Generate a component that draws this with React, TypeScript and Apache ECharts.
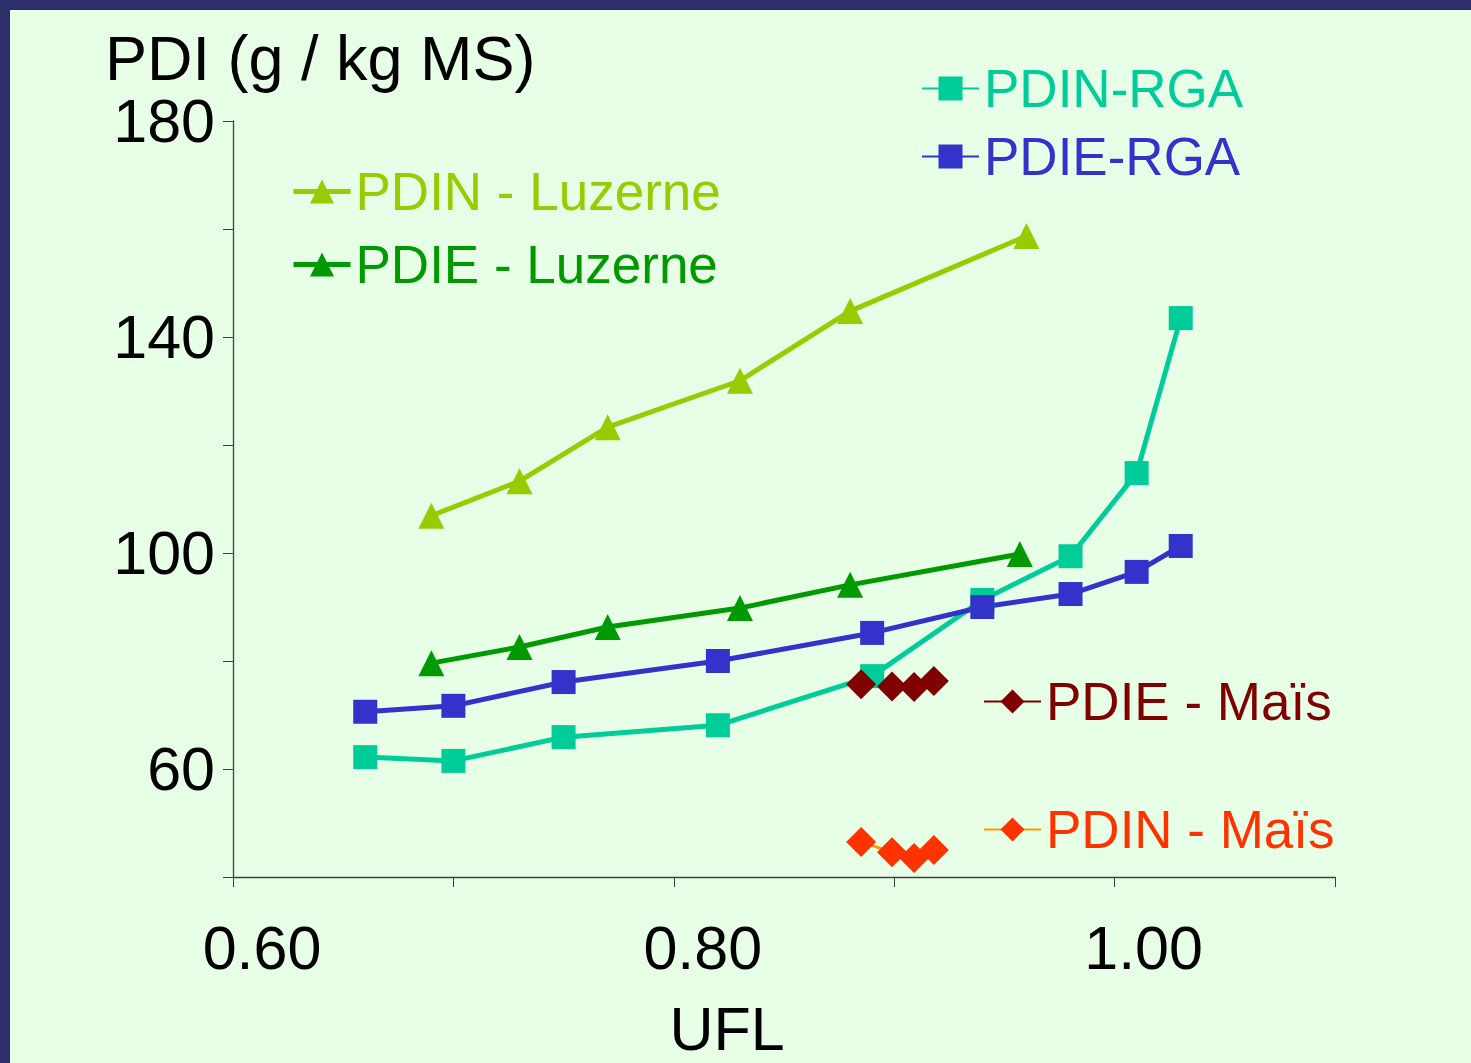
import React, { useEffect, useRef } from 'react';
import * as echarts from 'echarts';

const uflLuzN = [0.69, 0.73, 0.77, 0.83, 0.88, 0.96];
const pdinLuz = [106.9, 113.3, 123.3, 131.9, 144.8, 158.7];
const uflLuzE = [0.69, 0.73, 0.77, 0.83, 0.88, 0.957];
const pdieLuz = [79.6, 82.6, 86.3, 89.8, 94.1, 99.8];

const uflRga = [0.66, 0.70, 0.75, 0.82, 0.89, 0.94, 0.98, 1.01, 1.03];
const pdinRga = [62.2, 61.5, 65.9, 68.1, 77.2, 91.3, 99.4, 114.8, 143.5];
const pdieRga = [70.6, 71.7, 76.1, 80.0, 85.2, 90.0, 92.4, 96.5, 101.3];

const uflMais = [0.885, 0.899, 0.909, 0.918];
const pdieMais = [75.7, 75.3, 75.2, 76.3];
const pdinMais = [46.5, 44.6, 43.5, 45.0];

const xTickLabels = ['0.60', '0.80', '1.00'];
const yTickLabels = ['60', '100', '140', '180'];

const FONT = '"Liberation Sans", Arial, sans-serif';

const pair = (xs: number[], ys: number[]) => xs.map((x, i) => [x, ys[i]]);

export default function App() {
  const ref = useRef<HTMLDivElement>(null);
  useEffect(() => {
    const chart = echarts.init(ref.current!, null, { renderer: 'svg' });
    const lineSeries = (name: string, data: number[][], color: string, symbol: string, size: number, width: number, lineColor?: string) => ({
      name,
      type: 'line',
      data,
      symbol,
      symbolSize: size,
      itemStyle: { color },
      lineStyle: { color: lineColor || color, width },
      emphasis: { disabled: true },
    });
    const legendBase = {
      orient: 'vertical',
      padding: 0,
      itemWidth: 57,
      itemHeight: 30,
      selectedMode: false,
      textStyle: { fontSize: 53, fontFamily: FONT },
    };
    chart.setOption({
      animation: false,
      backgroundColor: '#2C2F6C',
      textStyle: { fontFamily: FONT },
      graphic: [
        { type: 'rect', z: -10, shape: { x: 10, y: 10, width: 1461, height: 1053 }, style: { fill: '#E6FFE6' } },
        { type: 'text', x: 105, y: 26, style: { text: 'PDI (g / kg MS)', fontSize: 63, fontFamily: FONT, fill: '#000' } },
        { type: 'text', x: 727, y: 998, style: { text: 'UFL', fontSize: 61, fontFamily: FONT, fill: '#000', textAlign: 'center' } },
      ],
      grid: { left: 233, top: 121, width: 1102, height: 756, containLabel: false },
      xAxis: {
        type: 'value',
        min: 0.6,
        max: 1.1,
        interval: 0.1,
        splitLine: { show: false },
        axisLine: { onZero: false, lineStyle: { color: '#404040', width: 1.3 } },
        axisTick: { length: 10, lineStyle: { color: '#404040' } },
        axisLabel: {
          margin: 40,
          fontSize: 61,
          color: '#000',
          fontFamily: FONT,
          padding: [0, 0, 0, 58],
          formatter: (v: number) => {
            const s = v.toFixed(2);
            return xTickLabels.includes(s) ? s : '';
          },
        },
      },
      yAxis: {
        type: 'value',
        min: 40,
        max: 180,
        interval: 20,
        splitLine: { show: false },
        axisLine: { show: true, lineStyle: { color: '#404040', width: 1.3 } },
        axisTick: { show: true, length: 10, lineStyle: { color: '#404040' } },
        axisLabel: {
          margin: 18,
          fontSize: 61,
          lineHeight: 40,
          color: '#000',
          fontFamily: FONT,
          padding: [12, 0, 0, 0],
          formatter: (v: number) => {
            const s = String(Math.round(v));
            return yTickLabels.includes(s) ? s : '';
          },
        },
      },
      legend: [
        {
          ...legendBase,
          left: 291,
          top: 165,
          itemGap: 20,
          lineStyle: { width: 5 },
          data: [
            { name: 'PDIN - Luzerne', textStyle: { color: '#99CC00' } },
            { name: 'PDIE - Luzerne', textStyle: { color: '#009900' } },
          ],
        },
        {
          ...legendBase,
          left: 921,
          top: 62,
          itemGap: 15,
          lineStyle: { width: 2 },
          data: [
            { name: 'PDIN-RGA', textStyle: { color: '#00CC99' } },
            { name: 'PDIE-RGA', textStyle: { color: '#3333CC' } },
          ],
        },
        {
          ...legendBase,
          left: 983,
          top: 675,
          itemGap: 75,
          lineStyle: { width: 2 },
          data: [
            { name: 'PDIE - Maïs', textStyle: { color: '#800000' } },
            { name: 'PDIN - Maïs', textStyle: { color: '#FF3300' } },
          ],
        },
      ],
      series: [
        lineSeries('PDIN-RGA', pair(uflRga, pdinRga), '#00CC99', 'rect', 24, 5),
        lineSeries('PDIE-RGA', pair(uflRga, pdieRga), '#3333CC', 'rect', 24, 5),
        lineSeries('PDIN - Luzerne', pair(uflLuzN, pdinLuz), '#99CC00', 'triangle', 26, 5),
        lineSeries('PDIE - Luzerne', pair(uflLuzE, pdieLuz), '#009900', 'triangle', 26, 5),
        lineSeries('PDIE - Maïs', pair(uflMais, pdieMais), '#800000', 'diamond', 30, 2),
        lineSeries('PDIN - Maïs', pair(uflMais, pdinMais), '#FF3300', 'diamond', 30, 3, '#FF9900'),
      ],
    });
    return () => chart.dispose();
  }, []);
  return <div ref={ref} style={{ position: 'fixed', left: 0, top: 0, width: 1471, height: 1063 }} />;
}
